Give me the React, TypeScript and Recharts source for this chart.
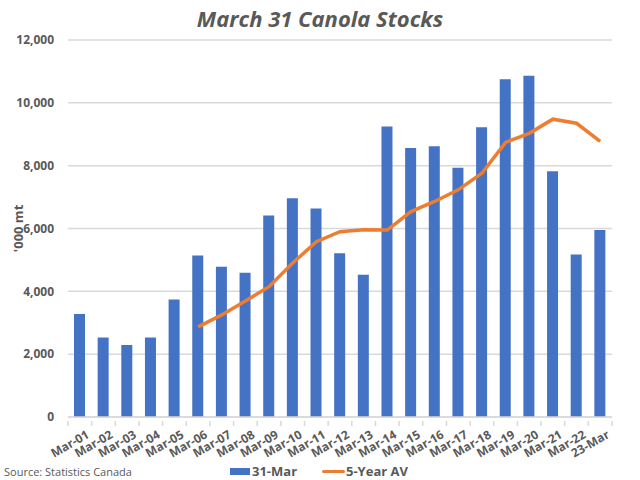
import { ComposedChart, Bar, Line, XAxis, YAxis, CartesianGrid, Legend } from 'recharts'

const categories = [
  'Mar-01', 'Mar-02', 'Mar-03', 'Mar-04', 'Mar-05', 'Mar-06', 'Mar-07', 'Mar-08',
  'Mar-09', 'Mar-10', 'Mar-11', 'Mar-12', 'Mar-13', 'Mar-14', 'Mar-15', 'Mar-16',
  'Mar-17', 'Mar-18', 'Mar-19', 'Mar-20', 'Mar-21', 'Mar-22', '23-Mar',
]

const stocks = [
  3280, 2530, 2290, 2530, 3740, 5140, 4780, 4590, 6410, 6960, 6640, 5210,
  4530, 9250, 8560, 8620, 7930, 9220, 10750, 10860, 7820, 5170, 5950,
]

const fiveYearAvg: (number | null)[] = [
  null, null, null, null, null, 2870, 3250, 3690, 4150, 4900, 5580, 5900,
  5960, 5950, 6540, 6860, 7230, 7760, 8740, 9030, 9480, 9350, 8770,
]

const yTicks = [0, 2000, 4000, 6000, 8000, 10000, 12000]

const data = categories.map((c, i) => ({ cat: c, stocks: stocks[i], avg: fiveYearAvg[i] }))

const TEXT = '#595959'
const FONT = '"Open Sans", sans-serif'
const BLUE = '#4472C4'
const ORANGE = '#ED7D31'
const PLOT_W = 544
const BAND = PLOT_W / categories.length

function XTick({ x, y, payload, index }: any) {
  return (
    <g>
      <line x1={x - BAND / 2} x2={x - BAND / 2} y1={y - 4} y2={y + 1} stroke="#d9d9d9" strokeWidth={1.5} />
      {index === categories.length - 1 && (
        <line x1={x + BAND / 2} x2={x + BAND / 2} y1={y - 4} y2={y + 1} stroke="#d9d9d9" strokeWidth={1.5} />
      )}
      <text
        x={x + 5}
        y={y + 3}
        textAnchor="end"
        dominantBaseline="hanging"
        transform={`rotate(-30 ${x + 5} ${y + 3})`}
        style={{ fontSize: 12, fontWeight: 700, fill: TEXT, fontFamily: FONT }}
      >
        {payload.value}
      </text>
    </g>
  )
}

function LegendContent() {
  return (
    <div style={{ position: 'relative', height: 28, fontFamily: FONT, fontSize: 13, fontWeight: 700, color: TEXT, lineHeight: '16px' }}>
      <div style={{ position: 'absolute', left: 4, top: 12, fontSize: 11, fontWeight: 400 }}>Source: Statistics Canada</div>
      <div style={{ position: 'absolute', left: 230, top: 11, display: 'flex', alignItems: 'center' }}>
        <span style={{ display: 'inline-block', width: 20, height: 7, background: BLUE, marginRight: 2 }} />
        31-Mar
      </div>
      <div style={{ position: 'absolute', left: 322, top: 11, display: 'flex', alignItems: 'center' }}>
        <span style={{ display: 'inline-block', width: 23, height: 3, background: ORANGE, borderRadius: 2, marginRight: 1 }} />
        5-Year AV
      </div>
    </div>
  )
}

export default function App() {
  return (
    <div style={{ position: 'absolute', left: 0, top: 0, width: 640, height: 480, background: '#fff' }}>
      <div style={{
        position: 'absolute', left: 0, top: 3, width: 640, textAlign: 'center',
        fontFamily: FONT, fontSize: 22, fontWeight: 700, fontStyle: 'italic', color: TEXT,
      }}>
        March 31 Canola Stocks
      </div>
      <ComposedChart
        width={640}
        height={480}
        data={data}
        margin={{ top: 40, right: 28, bottom: 0, left: 0 }}
        barSize={11}
      >
        <CartesianGrid vertical={false} stroke="#d9d9d9" strokeWidth={1.5} />
        <XAxis
          dataKey="cat"
          interval={0}
          height={35}
          tickLine={false}
          axisLine={{ stroke: '#d9d9d9', strokeWidth: 1.5 }}
          tick={<XTick />}
        />
        <YAxis
          width={68}
          domain={[0, 12000]}
          ticks={yTicks}
          tickFormatter={(v: number) => v.toLocaleString('en-US')}
          tickLine={false}
          axisLine={false}
          tickMargin={8}
          tick={{ fontSize: 12, fontWeight: 700, fill: TEXT, fontFamily: FONT }}
          label={{
            value: "'000 mt", angle: -90, position: 'insideLeft', offset: 18,
            style: { fontSize: 13, fontWeight: 700, fill: TEXT, fontFamily: FONT, textAnchor: 'middle' },
          }}
        />
        <Legend verticalAlign="bottom" height={28} content={<LegendContent />} />
        <Bar dataKey="stocks" name="31-Mar" fill={BLUE} isAnimationActive={false} />
        <Line
          dataKey="avg"
          name="5-Year AV"
          stroke={ORANGE}
          strokeWidth={3.5}
          dot={false}
          type="linear"
          isAnimationActive={false}
        />
      </ComposedChart>
    </div>
  )
}
